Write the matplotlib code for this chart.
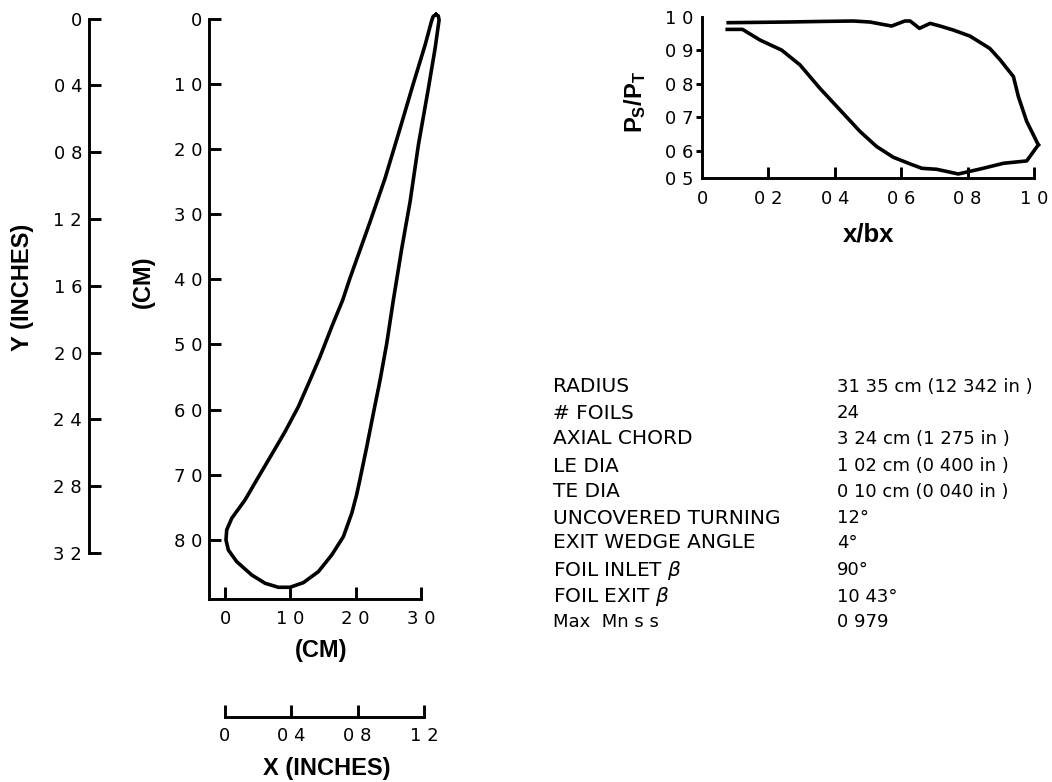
import matplotlib
matplotlib.use('Agg')
import matplotlib.pyplot as plt

plt.rcParams['font.family'] = ['Liberation Sans', 'DejaVu Sans']
plt.rcParams['mathtext.fontset'] = 'custom'
plt.rcParams['mathtext.bf'] = 'Liberation Sans:bold'
plt.rcParams['mathtext.it'] = 'DejaVu Sans:italic'
plt.rcParams['mathtext.rm'] = 'Liberation Sans'

# foil outline, cm
foil_x = [32.31, 31.85, 31.59, 30.63, 28.84, 26.80, 24.50, 22.21, 19.14, 18.02, 16.34, 14.55, 13.02, 11.23, 9.19,
          7.55, 4.85, 3.06, 1.03, 0.26, 0.15, 0.51, 1.79, 4.09, 6.13, 8.16, 9.95, 11.99, 14.29, 16.34,
          18.12, 19.40, 20.14, 20.64, 21.70, 22.71, 23.74, 24.76, 25.77, 27.06, 28.33, 29.60, 31.13, 32.16,
          32.77, 32.65, 32.31]
foil_y = [-0.69, -0.38, 0.41, 3.99, 9.88, 16.79, 24.47, 31.14, 39.78, 43.16, 47.27, 51.87, 55.45, 59.55, 63.40,
          66.21, 70.81, 73.89, 76.70, 78.49, 80.03, 81.57, 83.36, 85.41, 86.68, 87.30, 87.30, 86.59, 84.90, 82.33,
          79.52, 75.93, 73.12, 70.81, 65.70, 60.57, 55.45, 49.82, 43.16, 35.22, 28.06, 19.35, 10.65, 4.50,
          0.15, -0.46, -0.69]

# pressure distribution
upper_x = [0.079, 0.255, 0.376, 0.456, 0.506, 0.571, 0.611, 0.627, 0.655, 0.687, 0.717, 0.757,
           0.807, 0.867, 0.898, 0.938, 0.953, 0.978, 1.013]
upper_y = [0.983, 0.985, 0.987, 0.988, 0.985, 0.973, 0.988, 0.988, 0.966, 0.981, 0.973, 0.961,
           0.943, 0.906, 0.872, 0.822, 0.762, 0.688, 0.618]
lower_x = [0.076, 0.122, 0.175, 0.240, 0.295, 0.355, 0.416, 0.476, 0.526, 0.576, 0.627, 0.662,
           0.707, 0.772, 0.847, 0.908, 0.978, 1.013]
lower_y = [0.963, 0.963, 0.931, 0.901, 0.857, 0.787, 0.722, 0.658, 0.613, 0.581, 0.561, 0.548,
           0.545, 0.531, 0.548, 0.563, 0.570, 0.618]

y_in_ticks = [0, 0.4, 0.8, 1.2, 1.6, 2.0, 2.4, 2.8, 3.2]
y_in_labels = ['0', '0 4', '0 8', '1 2', '1 6', '2 0', '2 4', '2 8', '3 2']
y_cm_ticks = [0, 10, 20, 30, 40, 50, 60, 70, 80]
y_cm_labels = ['0', '1 0', '2 0', '3 0', '4 0', '5 0', '6 0', '7 0', '8 0']
x_cm_ticks = [0, 10, 20, 30]
x_cm_labels = ['0', '1 0', '2 0', '3 0']
x_in_ticks = [0, 0.4, 0.8, 1.2]
x_in_labels = ['0', '0 4', '0 8', '1 2']
p_x_ticks = [0, 0.2, 0.4, 0.6, 0.8, 1.0]
p_x_labels = ['0', '0 2', '0 4', '0 6', '0 8', '1 0']
p_y_ticks = [0.519, 0.6, 0.7, 0.8, 0.9, 1.0]
p_y_labels = ['0 5', '0 6', '0 7', '0 8', '0 9', '1 0']

table_names = ['RADIUS', '# FOILS', 'AXIAL CHORD', 'LE DIA', 'TE DIA', 'UNCOVERED TURNING',
               'EXIT WEDGE ANGLE', r'FOIL INLET $\mathit{\beta}$', r'FOIL EXIT $\mathit{\beta}$', 'Max  Mn s s']
table_values = ['31 35 cm (12 342 in )', '24', '3 24 cm (1 275 in )', '1 02 cm (0 400 in )',
                '0 10 cm (0 040 in )', '12°', '4°', '90°', '10 43°', '0 979']
table_rows = [387, 413, 439, 466, 492, 518, 543, 570, 597, 622]

W, H = 1052, 782
TICK = 13
LW = 2.1
CURVE = 2.6
fig = plt.figure(figsize=(W / 100, H / 100), dpi=100)


def axes_px(left, top, right, bottom):
    ax = fig.add_axes([left / W, 1 - bottom / H, (right - left) / W, (bottom - top) / H])
    ax.patch.set_alpha(0)
    for s in ax.spines.values():
        s.set_visible(False)
        s.set_linewidth(LW)
    return ax


def label_px(x, y, s, **kw):
    fig.text(x / W, 1 - y / H, s, **kw)


def tick_font(ax):
    for t in ax.get_xticklabels() + ax.get_yticklabels():
        t.set_family(['DejaVu Sans'])
        t.set_fontsize(TICK)


# Y inches scale
ax = axes_px(89, 18.5, 109, 553)
ax.set_ylim(3.2, 0)
ax.spines['left'].set_visible(True)
ax.set_xticks([])
ax.set_yticks(y_in_ticks, y_in_labels)
ax.tick_params(axis='y', direction='in', length=8.5, width=LW, pad=5)
tick_font(ax)

# foil
ax = axes_px(209, 19, 421, 599)
ax.set_xlim(-2.45, 30)
ax.set_ylim(89.1, 0)
ax.spines['left'].set_visible(True)
ax.spines['bottom'].set_visible(True)
ax.plot(foil_x, foil_y, color='black', lw=CURVE, clip_on=False, solid_joinstyle='round')
ax.set_xticks(x_cm_ticks, x_cm_labels)
ax.set_yticks(y_cm_ticks, y_cm_labels)
ax.tick_params(axis='both', direction='in', length=8.5, width=LW, pad=5)
ax.tick_params(axis='x', pad=8)
tick_font(ax)

# X inches scale
ax = axes_px(225, 700, 424, 717)
ax.set_xlim(0, 1.2)
ax.spines['bottom'].set_visible(True)
ax.set_yticks([])
ax.set_xticks(x_in_ticks, x_in_labels)
ax.tick_params(axis='x', direction='in', length=8.5, width=LW, pad=7)
tick_font(ax)

# pressure plot
ax = axes_px(702, 17, 1034, 178)
ax.set_xlim(0, 1.0)
ax.set_ylim(0.519, 1.0)
ax.spines['left'].set_visible(True)
ax.spines['bottom'].set_visible(True)
ax.plot(upper_x, upper_y, color='black', lw=CURVE, clip_on=False, solid_joinstyle='round')
ax.plot(lower_x, lower_y, color='black', lw=CURVE, clip_on=False, solid_joinstyle='round')
ax.set_xticks(p_x_ticks, p_x_labels)
ax.set_yticks(p_y_ticks, p_y_labels)
ax.set_yticks([1.0], minor=True)
ax.tick_params(axis='x', direction='in', length=8, width=LW, pad=9)
ax.tick_params(axis='y', which='major', direction='out', length=4, width=LW, pad=2)
ax.tick_params(axis='y', which='minor', direction='in', length=8.5, width=LW)
ax.yaxis.get_major_ticks()[0].tick1line.set_visible(False)
ax.yaxis.get_major_ticks()[-1].tick1line.set_visible(False)
ax.xaxis.get_major_ticks()[0].tick1line.set_visible(False)
tick_font(ax)

# axis titles
bold = dict(fontsize=17, fontweight='bold', ha='center', va='center')
label_px(23, 287, 'Y (INCHES)', rotation=90, **bold)
label_px(143, 282, '(CM)', rotation=90, **bold)
label_px(321, 651, '(CM)', **bold)
label_px(327, 768, 'X (INCHES)', **bold)
label_px(869, 235, 'x/bx', fontsize=18.5, fontweight='bold', ha='center', va='center')
label_px(635, 102, r'$\mathbf{P_S/P_T}$', rotation=90, fontsize=17, ha='center', va='center')

# data table
for name, value, row in zip(table_names, table_values, table_rows):
    size = 13 if name.startswith('Max') else 14.5
    label_px(553, row, name, fontsize=size, family=['DejaVu Sans'], ha='left', va='center')
    label_px(837, row, value, fontsize=13, family=['DejaVu Sans'], ha='left', va='center')

fig.savefig('out.png', dpi=100)
